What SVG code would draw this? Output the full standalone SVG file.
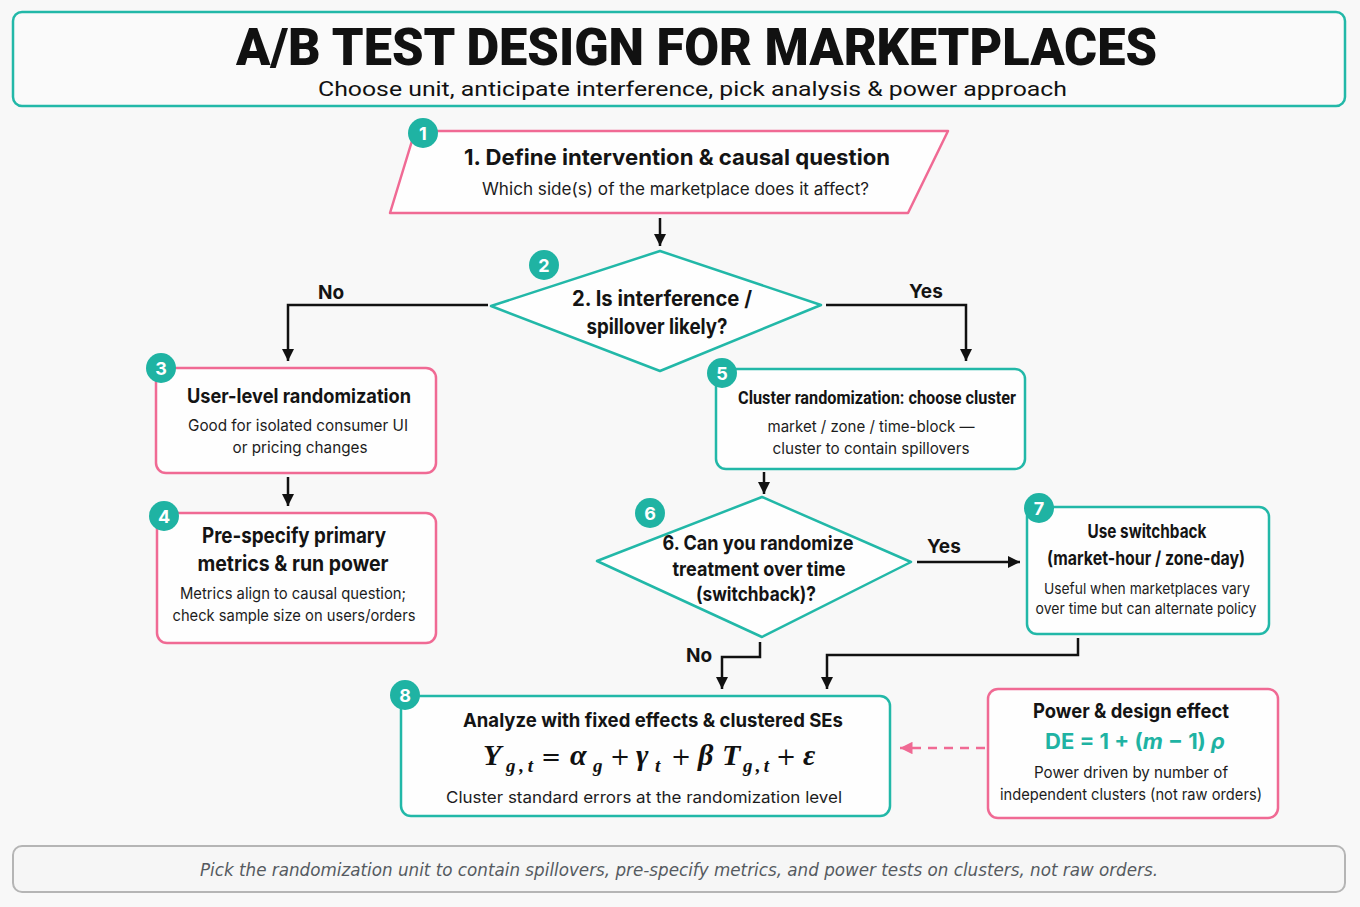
<svg xmlns="http://www.w3.org/2000/svg" width="1360" height="907" viewBox="0 0 1360 907">
<defs>
<style>
.bg{fill:#f8f8f8}
.pink{fill:#fefefe;stroke:#f06a94;stroke-width:2.5;stroke-linejoin:round}
.teal{fill:#fefefe;stroke:#22b8a8;stroke-width:2.5;stroke-linejoin:round}
.badge{fill:#1fb3a3}
.bnum{font-family:Inter,"Liberation Sans",sans-serif;font-weight:700;font-size:18px;fill:#fff;text-anchor:middle}
.h{font-family:Inter,"Liberation Sans",sans-serif;font-weight:700;fill:#141414;text-anchor:middle}
.s{font-family:Inter,"Liberation Sans",sans-serif;font-weight:400;fill:#1c1c1c;text-anchor:middle}
.lbl{font-family:Inter,"Liberation Sans",sans-serif;font-weight:700;font-size:19px;fill:#141414}
.ln{fill:none;stroke:#111;stroke-width:2.5}
.dash{fill:none;stroke:#f06a94;stroke-width:2.5;stroke-dasharray:9 7}
.m{font-family:"Liberation Serif","DejaVu Serif",serif;font-style:italic;font-weight:700;fill:#111;font-size:30px}
.sub{font-family:"Liberation Serif","DejaVu Serif",serif;font-style:italic;font-weight:700;fill:#111;font-size:19px}
.op{font-family:"DejaVu Serif","Liberation Serif",serif;fill:#111;font-size:24px;text-anchor:middle}
.cl{font-family:Roboto,"Liberation Sans",sans-serif;font-weight:700;fill:#141414}
</style>
<marker id="ah" viewBox="0 0 10 10" refX="10" refY="5" markerWidth="5" markerHeight="5" orient="auto" markerUnits="strokeWidth">
<path d="M0,0 L10,5 L0,10 z" fill="#111"/>
</marker>
<marker id="ahp" viewBox="0 0 10 10" refX="10" refY="5" markerWidth="5" markerHeight="5" orient="auto" markerUnits="strokeWidth">
<path d="M0,0 L10,5 L0,10 z" fill="#f06a94"/>
</marker>
</defs>
<rect class="bg" x="0" y="0" width="1360" height="907"/>

<g id="header">
<rect x="13" y="12" width="1332" height="94" rx="9" fill="#fafafa" stroke="#22b8a8" stroke-width="2.5"/>
<text x="696.5" y="65" font-family="Roboto,'Liberation Sans',sans-serif" font-weight="900" font-size="51" fill="#111" text-anchor="middle" textLength="921" lengthAdjust="spacingAndGlyphs">A/B TEST DESIGN FOR MARKETPLACES</text>
<text x="692.5" y="96" font-family="Roboto,'Liberation Sans',sans-serif" font-size="21" fill="#111" text-anchor="middle" textLength="749" lengthAdjust="spacingAndGlyphs">Choose unit, anticipate interference, pick analysis &amp; power approach</text>
</g>

<g id="connectors">
<line class="ln" x1="660" y1="218" x2="660" y2="246" marker-end="url(#ah)"/>
<polyline class="ln" points="488,305 288,305 288,361" marker-end="url(#ah)"/>
<text class="lbl" x="318" y="299">No</text>
<polyline class="ln" points="826,305 966,305 966,361" marker-end="url(#ah)"/>
<text class="lbl" x="909" y="298">Yes</text>
<line class="ln" x1="288" y1="477" x2="288" y2="506" marker-end="url(#ah)"/>
<line class="ln" x1="764" y1="472" x2="764" y2="494" marker-end="url(#ah)"/>
<line class="ln" x1="917" y1="562" x2="1020" y2="562" marker-end="url(#ah)"/>
<text class="lbl" x="927" y="553">Yes</text>
<polyline class="ln" points="760,642 760,657 722,657 722,689" marker-end="url(#ah)"/>
<text class="lbl" x="686" y="662">No</text>
<polyline class="ln" points="1078,638 1078,655 827,655 827,689" marker-end="url(#ah)"/>
<line class="dash" x1="985" y1="748" x2="900" y2="748" marker-end="url(#ahp)"/>
</g>

<g id="node1">
<polygon class="pink" points="415,131 948,131 908,213 390,213"/>
<text class="h" x="677" y="165" font-size="22" textLength="426" lengthAdjust="spacingAndGlyphs">1. Define intervention &amp; causal question</text>
<text class="s" x="675.5" y="195" font-size="17" textLength="387" lengthAdjust="spacingAndGlyphs">Which side(s) of the marketplace does it affect?</text>
<circle class="badge" cx="423" cy="133" r="15"/><text class="bnum" x="423" y="139.5">1</text>
</g>

<g id="node2">
<polygon class="teal" points="491,306 660,251 821,305 660,371"/>
<text class="h" x="662" y="306" font-size="21" textLength="180" lengthAdjust="spacingAndGlyphs">2. Is interference /</text>
<text class="h" x="657" y="334" font-size="21" textLength="141" lengthAdjust="spacingAndGlyphs">spillover likely?</text>
<circle class="badge" cx="544" cy="265" r="15"/><text class="bnum" x="544" y="271.5">2</text>
</g>

<g id="node3">
<rect class="pink" x="156" y="368" width="280" height="105" rx="10"/>
<text class="h" x="299" y="403" font-size="20" textLength="224" lengthAdjust="spacingAndGlyphs">User-level randomization</text>
<text class="s" x="298" y="431" font-size="16" textLength="220" lengthAdjust="spacingAndGlyphs">Good for isolated consumer UI</text>
<text class="s" x="300" y="453" font-size="16" textLength="135" lengthAdjust="spacingAndGlyphs">or pricing changes</text>
<circle class="badge" cx="161" cy="368" r="15"/><text class="bnum" x="161" y="374.5">3</text>
</g>

<g id="node4">
<rect class="pink" x="157" y="513" width="279" height="130" rx="10"/>
<text class="h" x="294" y="543" font-size="21" textLength="184" lengthAdjust="spacingAndGlyphs">Pre-specify primary</text>
<text class="h" x="293" y="571" font-size="21" textLength="191" lengthAdjust="spacingAndGlyphs">metrics &amp; run power</text>
<text class="s" x="293" y="599" font-size="16" textLength="226" lengthAdjust="spacingAndGlyphs">Metrics align to causal question;</text>
<text class="s" x="294" y="621" font-size="16" textLength="243" lengthAdjust="spacingAndGlyphs">check sample size on users/orders</text>
<circle class="badge" cx="164" cy="516" r="15"/><text class="bnum" x="164" y="522.5">4</text>
</g>

<g id="node5">
<rect class="teal" x="716" y="369" width="309" height="100" rx="10"/>
<text class="cl" x="738" y="404" font-size="19" textLength="278" lengthAdjust="spacingAndGlyphs">Cluster randomization: choose cluster</text>
<text class="s" x="871" y="432" font-size="16" textLength="207" lengthAdjust="spacingAndGlyphs">market / zone / time-block —</text>
<text class="s" x="871" y="454" font-size="16" textLength="197" lengthAdjust="spacingAndGlyphs">cluster to contain spillovers</text>
<circle class="badge" cx="722" cy="373" r="15"/><text class="bnum" x="722" y="379.5">5</text>
</g>

<g id="node6">
<polygon class="teal" points="597,561 762,497 911,562 762,637"/>
<text class="h" x="758" y="550" font-size="20" textLength="191" lengthAdjust="spacingAndGlyphs">6. Can you randomize</text>
<text class="h" x="759" y="576" font-size="20" textLength="173" lengthAdjust="spacingAndGlyphs">treatment over time</text>
<text class="h" x="756" y="601" font-size="20" textLength="120" lengthAdjust="spacingAndGlyphs">(switchback)?</text>
<circle class="badge" cx="650" cy="513" r="15"/><text class="bnum" x="650" y="519.5">6</text>
</g>

<g id="node7">
<rect class="teal" x="1027" y="507" width="242" height="127" rx="10"/>
<text class="h" x="1147" y="538" font-size="19" textLength="119" lengthAdjust="spacingAndGlyphs">Use switchback</text>
<text class="h" x="1146" y="565" font-size="19" textLength="198" lengthAdjust="spacingAndGlyphs">(market-hour / zone-day)</text>
<text class="s" x="1147" y="594" font-size="15" textLength="206" lengthAdjust="spacingAndGlyphs">Useful when marketplaces vary</text>
<text class="s" x="1146" y="614" font-size="15" textLength="221" lengthAdjust="spacingAndGlyphs">over time but can alternate policy</text>
<circle class="badge" cx="1039" cy="508" r="15"/><text class="bnum" x="1039" y="514.5">7</text>
</g>

<g id="node8">
<rect class="teal" x="401" y="696" width="489" height="120" rx="10"/>
<text class="h" x="653" y="727" font-size="19" textLength="380" lengthAdjust="spacingAndGlyphs">Analyze with fixed effects &amp; clustered SEs</text>
<text class="m" x="483" y="765">Y</text>
<text class="sub" x="506" y="772" textLength="27" lengthAdjust="spacing">g,t</text>
<text class="op" x="551" y="765">=</text>
<text class="m" x="570" y="765">α</text>
<text class="sub" x="593" y="772">g</text>
<text class="op" x="620" y="765">+</text>
<text class="m" x="636" y="765">γ</text>
<text class="sub" x="655" y="772">t</text>
<text class="op" x="681" y="765">+</text>
<text class="m" x="698" y="765">β</text>
<text class="m" x="722" y="765">T</text>
<text class="sub" x="743" y="772" textLength="26" lengthAdjust="spacing">g,t</text>
<text class="op" x="786" y="765">+</text>
<text class="m" x="803" y="765">ε</text>
<text class="s" x="644" y="803" font-size="16" textLength="396" lengthAdjust="spacingAndGlyphs">Cluster standard errors at the randomization level</text>
<circle class="badge" cx="405" cy="695" r="15"/><text class="bnum" x="405" y="701.5">8</text>
</g>

<g id="power">
<rect class="pink" x="988" y="689" width="290" height="129" rx="10"/>
<text class="h" x="1131" y="718" font-size="20" textLength="196" lengthAdjust="spacingAndGlyphs">Power &amp; design effect</text>
<text x="1135" y="749" font-family="Inter,'Liberation Sans',sans-serif" font-weight="700" font-size="21" fill="#1fb3a3" text-anchor="middle" textLength="180" lengthAdjust="spacingAndGlyphs">DE = 1 + (<tspan font-style="italic">m</tspan> − 1) <tspan font-style="italic">ρ</tspan></text>
<text class="s" x="1131" y="778" font-size="16" textLength="194" lengthAdjust="spacingAndGlyphs">Power driven by number of</text>
<text class="s" x="1131" y="800" font-size="16" textLength="262" lengthAdjust="spacingAndGlyphs">independent clusters (not raw orders)</text>
</g>

<g id="footer">
<rect x="13" y="846" width="1332" height="46" rx="9" fill="#f6f6f6" stroke="#b5b5b5" stroke-width="2"/>
<text x="679" y="876" font-family="'DejaVu Sans',sans-serif" font-style="italic" font-size="18" fill="#555a60" text-anchor="middle" textLength="958" lengthAdjust="spacingAndGlyphs">Pick the randomization unit to contain spillovers, pre-specify metrics, and power tests on clusters, not raw orders.</text>
</g>
</svg>
